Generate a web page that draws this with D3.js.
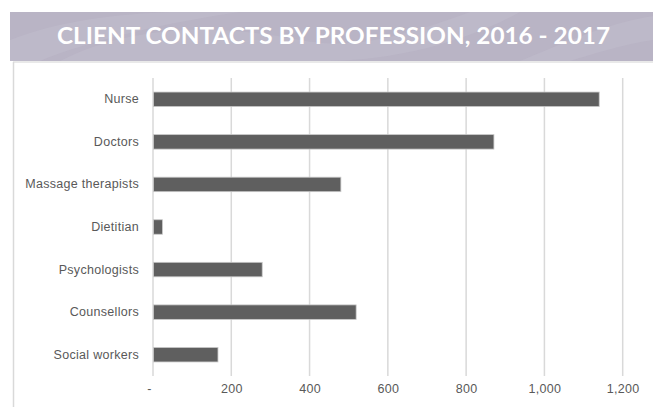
<!DOCTYPE html>
<html>
<head>
<meta charset="utf-8">
<script src="https://cdn.jsdelivr.net/npm/d3@7"></script>
<style>
  html, body { margin: 0; padding: 0; background: #ffffff; }
  svg { display: block; }
</style>
</head>
<body>
<svg id="chart" width="653" height="407"></svg>
<script>
const title = "CLIENT CONTACTS BY PROFESSION, 2016 - 2017";
const categories = ["Nurse", "Doctors", "Massage therapists", "Dietitian", "Psychologists", "Counsellors", "Social workers"];
const values = [1140, 871, 480, 24, 279, 519, 166];
const tickValues = [0, 200, 400, 600, 800, 1000, 1200];
const tickLabels = ["-", "200", "400", "600", "800", "1,000", "1,200"];

const W = 653, H = 407;
const svg = d3.select("#chart");

// banner
const banner = svg.append("g");
banner.append("rect").attr("x", 10).attr("y", 12).attr("width", W - 10).attr("height", 49).attr("fill", "#b9b4c5");
const swirls = [
  "M 60 61 C 120 30, 200 20, 300 40 C 360 52, 420 30, 470 12 L 520 12 C 470 40, 400 60, 330 61 Z",
  "M 10 40 C 60 20, 120 14, 170 12 L 240 12 C 170 22, 90 40, 40 61 L 10 61 Z",
  "M 520 61 C 560 45, 600 25, 653 16 L 653 40 C 620 45, 590 55, 570 61 Z"
];
banner.selectAll("path.sw").data(swirls).join("path")
  .attr("class", "sw").attr("d", d => d).attr("fill", "#c2bdcd").attr("opacity", 0.5);
banner.append("text")
  .attr("x", 57).attr("y", 44)
  .attr("font-family", "Lato, 'Open Sans', sans-serif")
  .attr("font-weight", 700)
  .attr("font-size", 22.5)
  .attr("textLength", 553)
  .attr("lengthAdjust", "spacingAndGlyphs")
  .attr("fill", "#ffffff")
  .text(title);

// frame lines
svg.append("line").attr("x1", 13).attr("x2", W).attr("y1", 62).attr("y2", 62).attr("stroke", "#e2e2e2").attr("stroke-width", 1.5);
svg.append("line").attr("x1", 13.5).attr("x2", 13.5).attr("y1", 62).attr("y2", H).attr("stroke", "#d9d9d9").attr("stroke-width", 1.5);

// scales
const x = d3.scaleLinear().domain([0, 1200]).range([153, 622.7]);
const y = d3.scaleBand().domain(categories).range([78, 376]).paddingInner(0.66).paddingOuter(0.33);

// gridlines
svg.append("g").selectAll("line").data(tickValues).join("line")
  .attr("x1", d => x(d)).attr("x2", d => x(d))
  .attr("y1", 78).attr("y2", 376)
  .attr("stroke", "#d9d9d9").attr("stroke-width", 1.5);

// bars
svg.append("g").selectAll("rect").data(values).join("rect")
  .attr("x", x(0) + 0.5)
  .attr("y", (d, i) => y(categories[i]))
  .attr("width", d => x(d) - x(0) - 0.5)
  .attr("height", y.bandwidth())
  .attr("fill", "#5f5f5f")
  .attr("stroke", "#c8c8c8")
  .attr("stroke-width", 0.8);

// category axis labels
const yAxis = d3.axisLeft(y).tickSize(0).tickPadding(0);
const gy = svg.append("g").attr("transform", "translate(139,0)").call(yAxis);
gy.select(".domain").remove();
gy.selectAll("text")
  .attr("font-family", "'Liberation Sans', Arial, sans-serif")
  .attr("font-size", 12.5)
  .attr("letter-spacing", 0.3)
  .attr("fill", "#595959");

// value axis labels
const xAxis = d3.axisBottom(x).tickValues(tickValues).tickSize(0).tickPadding(0)
  .tickFormat((d, i) => tickLabels[i]);
const gx = svg.append("g").attr("transform", "translate(0,384)").call(xAxis);
gx.select(".domain").remove();
gx.selectAll("text")
  .attr("font-family", "'Liberation Sans', Arial, sans-serif")
  .attr("font-size", 12.5)
  .attr("letter-spacing", 0.3)
  .attr("fill", "#595959");
gx.selectAll(".tick").filter(d => d === 0).select("text").attr("dx", -4);
</script>
</body>
</html>
